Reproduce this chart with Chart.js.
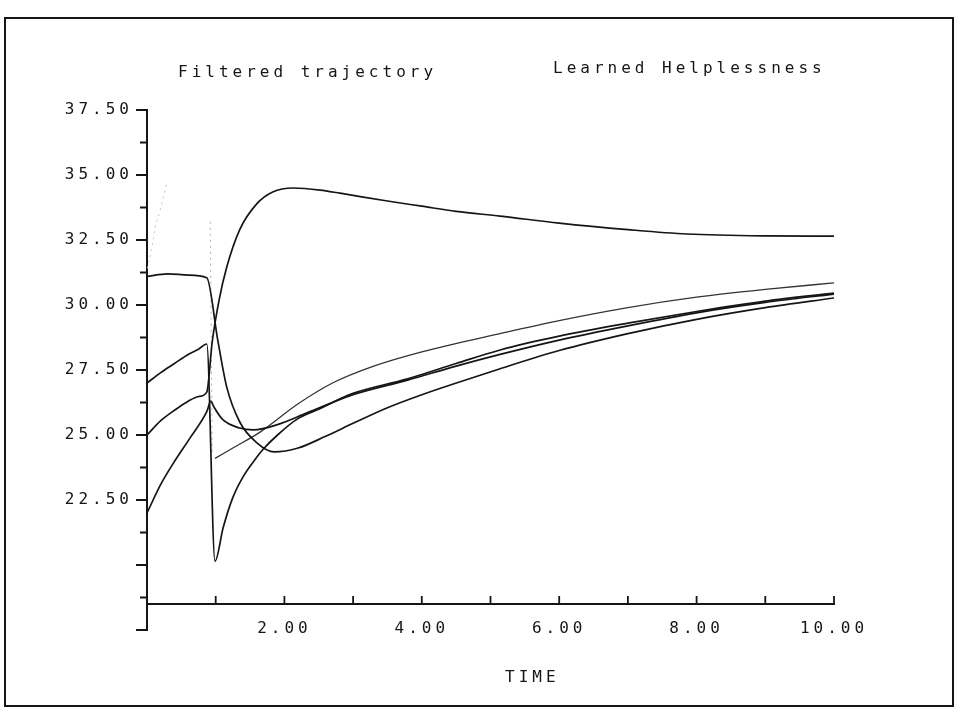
<!DOCTYPE html>
<html lang="en">
<head>
<meta charset="UTF-8">
<title>Filtered trajectory - Learned Helplessness</title>
<script src="https://cdn.jsdelivr.net/npm/chart.js@4.4.1/dist/chart.umd.min.js"></script>
<style>
  html, body { margin: 0; padding: 0; background: #fff; }
  .janela { width: 960px; height: 718px; position: relative; }
</style>
</head>
<body>
<div class="janela"><canvas id="grafico"></canvas></div>

<script>
// values (time, level)
const tA = [0, 0.3, 0.6, 0.87, 1.03, 1.16, 1.35, 1.6, 1.85, 2.2, 2.6, 3.0, 3.5, 4.0, 4.56, 5.14, 6, 7, 8, 9, 10];
const yA = [31.1, 31.2, 31.15, 31.05, 28.65, 26.85, 25.5, 24.7, 24.35, 24.5, 24.95, 25.45, 26.05, 26.55, 27.05, 27.55, 28.25, 28.9, 29.45, 29.9, 30.27];

const tB = [0, 0.2, 0.4, 0.6, 0.75, 0.87, 0.95, 1.05, 1.16, 1.35, 1.6, 1.83, 2.13, 2.52, 2.81, 3.5, 4, 4.5, 5.14, 6, 7, 7.86, 9, 10];
const yB = [25.0, 25.55, 25.95, 26.3, 26.48, 26.65, 28.6, 30.2, 31.45, 32.9, 33.9, 34.35, 34.5, 34.42, 34.3, 34.0, 33.8, 33.6, 33.42, 33.15, 32.9, 32.73, 32.66, 32.65];

const tC = [0, 0.2, 0.4, 0.6, 0.75, 0.87, 0.99, 1.11, 1.25, 1.4, 1.57, 1.69, 1.9, 2.18, 2.47, 3.0, 3.78, 4.5, 5.14, 6, 7, 8, 9, 10];
const yC = [27.0, 27.4, 27.75, 28.1, 28.3, 28.5, 20.15, 21.45, 22.6, 23.4, 24.05, 24.45, 25.0, 25.6, 25.96, 26.6, 27.15, 27.75, 28.27, 28.8, 29.3, 29.75, 30.15, 30.46];

const tD = [0, 0.2, 0.38, 0.63, 0.87, 0.93, 0.97, 1.1, 1.35, 1.55, 1.9, 2.33, 3.0, 3.78, 4.5, 5.14, 6, 7, 8, 9, 10];
const yD = [22.0, 23.1, 23.9, 24.9, 25.9, 26.3, 26.1, 25.6, 25.27, 25.2, 25.4, 25.85, 26.55, 27.1, 27.65, 28.1, 28.65, 29.2, 29.7, 30.1, 30.42];

const tE = [0.99, 1.25, 1.64, 2.2, 2.7, 3.3, 4.0, 5.14, 6, 7, 8, 9, 10];
const yE = [24.1, 24.5, 25.1, 26.2, 27.0, 27.65, 28.2, 28.9, 29.4, 29.9, 30.3, 30.6, 30.85];

// faint dotted pieces (barely printed)
const tF1 = [0, 0.07, 0.12, 0.19, 0.29];
const yF1 = [31.4, 32.2, 33.0, 33.65, 34.7];
const tF2 = [0.92, 0.95];
const yF2 = [33.2, 24.3];

const tituloEsq = 'Filtered trajectory';
const tituloDir = 'Learned Helplessness';
const tituloX = 'TIME';

const xMin = 0, xMax = 10, xPasso = 1;
const yMin = 17.5, yMax = 37.5, yPasso = 1.25;
const yEixoX = 18.5;   // where the time axis crosses

function pares(ts, ys) {
    return ts.map((t, i) => ({ x: t, y: ys[i] }));
}

function serie(ts, ys, extra) {
    return Object.assign({
        data: pares(ts, ys),
        borderColor: '#151515',
        borderWidth: 1.7,
        pointRadius: 0,
        fill: false,
        cubicInterpolationMode: 'monotone'
    }, extra || {});
}

const fonte = { family: '"DejaVu Sans Mono", monospace', size: 16 };
const espaco = '4px';

const enfeites = {
    id: 'enfeites',
    beforeDraw(chart) {
        chart.ctx.letterSpacing = espaco;
    },
    afterDraw(chart) {
        const ctx = chart.ctx;
        const x = chart.scales.x, y = chart.scales.y;
        const x0 = x.getPixelForValue(xMin);
        const yAx = y.getPixelForValue(yEixoX);
        ctx.save();
        ctx.strokeStyle = '#151515';
        ctx.lineWidth = 1.8;
        ctx.beginPath();
        // y ticks pointing left
        y.ticks.forEach(tk => {
            const py = y.getPixelForValue(tk.value);
            const maior = Math.abs(tk.value / 2.5 - Math.round(tk.value / 2.5)) < 1e-6;
            const len = maior ? 11 : 7;
            ctx.moveTo(x0 - len, py);
            ctx.lineTo(x0, py);
        });
        // x ticks pointing up
        x.ticks.forEach(tk => {
            if (tk.value === xMin) return;
            const px = x.getPixelForValue(tk.value);
            ctx.moveTo(px, yAx);
            ctx.lineTo(px, yAx - 8);
        });
        ctx.stroke();

        // frame round the sheet
        ctx.lineWidth = 2;
        ctx.strokeRect(5, 18, 948, 688);

        // texts
        ctx.fillStyle = '#151515';
        ctx.font = `${fonte.size}px ${fonte.family}`;
        ctx.letterSpacing = espaco;
        ctx.textBaseline = 'middle';
        ctx.textAlign = 'left';
        ctx.fillText(tituloEsq, 178, 73);
        ctx.fillText(tituloDir, 553, 69);
        ctx.fillText(tituloX, 505, 678);
        ctx.restore();
    }
};

new Chart(document.getElementById('grafico'), {
    type: 'line',
    data: {
        datasets: [
            serie(tA, yA),
            serie(tB, yB),
            serie(tC, yC),
            serie(tD, yD),
            serie(tE, yE, { borderColor: '#333', borderWidth: 1.3 }),
            serie(tF1, yF1, { borderColor: '#c4c4c4', borderWidth: 1, borderDash: [2, 4] }),
            serie(tF2, yF2, { borderColor: '#b0b0b0', borderWidth: 1, borderDash: [2, 4], cubicInterpolationMode: 'default' })
        ]
    },
    options: {
        responsive: true,
        maintainAspectRatio: false,
        animation: false,
        layout: { padding: { left: 0, right: 126, top: 110, bottom: 88 } },
        plugins: {
            legend: { display: false },
            tooltip: { enabled: false },
            title: { display: false }
        },
        scales: {
            x: {
                type: 'linear',
                min: xMin,
                max: xMax,
                position: { y: yEixoX },
                grid: { display: false, drawTicks: false },
                border: { display: true, color: '#151515', width: 2 },
                ticks: {
                    stepSize: xPasso,
                    autoSkip: false,
                    maxRotation: 0,
                    padding: 15,
                    color: '#151515',
                    font: fonte,
                    callback: v => (v > 0 && v % 2 === 0) ? v.toFixed(2) : ''
                }
            },
            y: {
                type: 'linear',
                min: yMin,
                max: yMax,
                position: 'left',
                afterFit: s => { s.width = 147; },
                grid: { display: false, drawTicks: false },
                border: { display: true, color: '#151515', width: 2 },
                ticks: {
                    stepSize: yPasso,
                    autoSkip: false,
                    padding: 14,
                    color: '#151515',
                    font: fonte,
                    callback: v => {
                        const maior = Math.abs(v / 2.5 - Math.round(v / 2.5)) < 1e-6;
                        return (maior && v >= 22.5) ? v.toFixed(2) : '';
                    }
                }
            }
        }
    },
    plugins: [enfeites]
});
</script>
</body>
</html>
